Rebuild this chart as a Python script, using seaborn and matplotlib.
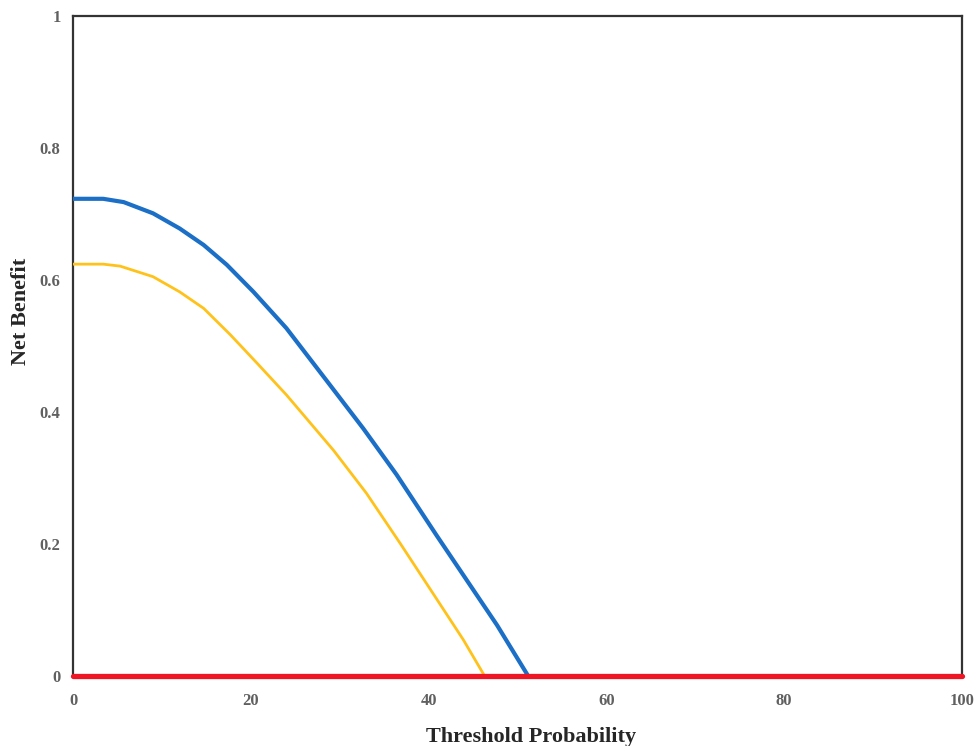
import matplotlib
matplotlib.use('Agg')
import matplotlib.pyplot as plt
import seaborn as sns

# threshold probability (%) and net benefit
model_x = [0, 3.4, 5.7, 9.0, 12.0, 14.7, 17.3, 20.3, 24.0, 28.5, 32.65, 36.4, 40.9, 44.3, 47.7, 51.2]
model_y = [0.723, 0.723, 0.718, 0.701, 0.678, 0.653, 0.623, 0.582, 0.527, 0.448, 0.375, 0.305, 0.213, 0.145, 0.077, 0.0]

alt_x = [0, 3.4, 5.3, 9.0, 12.0, 14.7, 17.7, 20.7, 24.0, 29.3, 33.0, 36.8, 40.5, 43.9, 46.3]
alt_y = [0.624, 0.624, 0.621, 0.605, 0.582, 0.557, 0.517, 0.474, 0.426, 0.342, 0.277, 0.201, 0.125, 0.055, 0.0]

none_x = [0, 100]
none_y = [0.0, 0.0]

x_ticks = [0, 20, 40, 60, 80, 100]
y_ticks = [0, 0.2, 0.4, 0.6, 0.8, 1]
y_ticklabels = ['0', '0.2', '0.4', '0.6', '0.8', '1']


def run():
    sns.set_style('white')
    plt.rcParams['font.family'] = ['Liberation Serif', 'DejaVu Serif']

    fig = plt.figure(figsize=(9.76, 7.46), dpi=100)
    ax = fig.add_axes([0.0748, 0.0938, 0.9109, 0.8848])

    sns.lineplot(x=alt_x, y=alt_y, ax=ax, color='#ffc21a', linewidth=2.0, zorder=3)
    sns.lineplot(x=model_x, y=model_y, ax=ax, color='#1b6fc6', linewidth=3.0, zorder=4)
    sns.lineplot(x=none_x, y=none_y, ax=ax, color='#ee1525', linewidth=3.8, zorder=5, clip_on=False)

    ax.set_xlim(0, 100)
    ax.set_ylim(0, 1)
    ax.set_xticks(x_ticks)
    ax.set_yticks(y_ticks)
    ax.set_yticklabels(y_ticklabels)
    ax.tick_params(length=0, labelsize=12, labelcolor='#606060')
    ax.tick_params(axis='x', pad=12)
    ax.tick_params(axis='y', pad=9)
    for lab in ax.get_xticklabels() + ax.get_yticklabels():
        lab.set_fontweight('bold')

    for spine in ax.spines.values():
        spine.set_color('#333333')
        spine.set_linewidth(1.6)

    ax.set_xlabel('Threshold Probability', fontsize=16, fontweight='bold')
    ax.set_ylabel('Net Benefit', fontsize=16, fontweight='bold')
    ax.xaxis.set_label_coords(0.515, -0.077)
    ax.yaxis.set_label_coords(-0.047, 0.552)

    fig.savefig('out.png', dpi=100)


if __name__ == '__main__':
    run()
